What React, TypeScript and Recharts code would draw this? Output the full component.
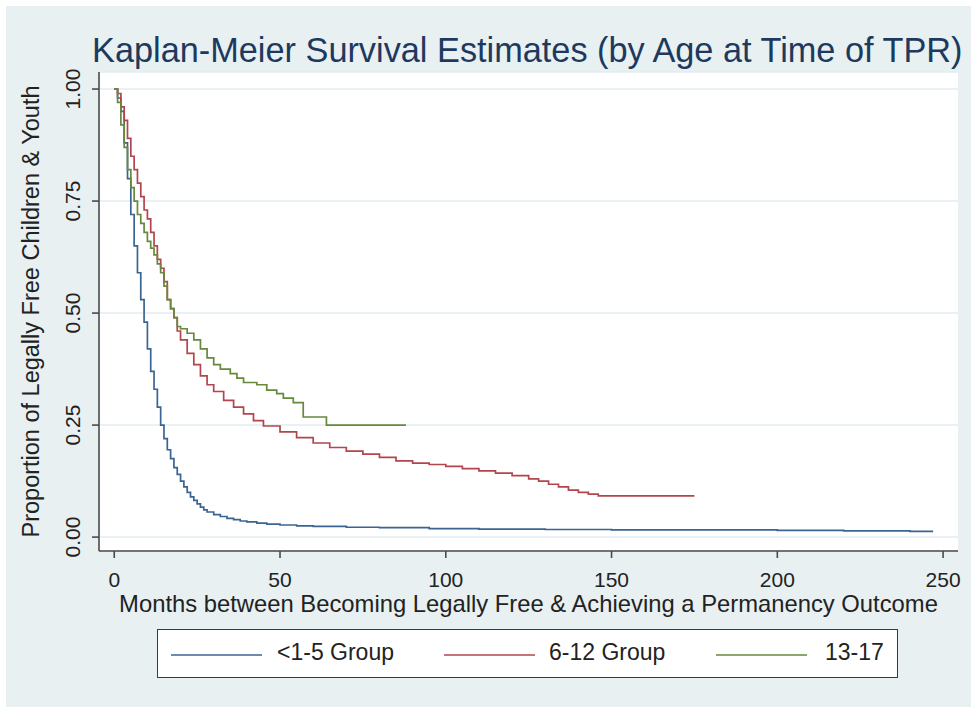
import React from "react";
import {
  LineChart,
  Line,
  XAxis,
  YAxis,
  CartesianGrid,
  Legend,
} from "recharts";

// months since becoming legally free, and Kaplan-Meier survival at each step
const youngMonths = [
  0, 1, 2, 3, 4, 5, 6, 7, 8, 9, 10, 11, 12, 13, 14, 15, 16, 17, 18, 19, 20, 21,
  22, 23, 24, 25, 26, 27, 28, 30, 32, 34, 36, 38, 40, 43, 46, 50, 55, 60, 70,
  80, 95, 110, 130, 150, 175, 200, 220, 240, 247,
];
const youngSurvival = [
  1, 0.98, 0.95, 0.88, 0.8, 0.72, 0.65, 0.59, 0.53, 0.48, 0.42, 0.37, 0.33,
  0.29, 0.25, 0.22, 0.195, 0.175, 0.155, 0.14, 0.125, 0.112, 0.1, 0.09, 0.082,
  0.074, 0.067, 0.061, 0.056, 0.05, 0.046, 0.042, 0.039, 0.036, 0.034, 0.031,
  0.029, 0.027, 0.025, 0.024, 0.022, 0.021, 0.019, 0.018, 0.017, 0.016, 0.016,
  0.015, 0.014, 0.013, 0.013,
];

const middleMonths = [
  0, 1, 2, 3, 4, 5, 6, 7, 8, 9, 10, 11, 12, 13, 14, 15, 16, 17, 18, 19, 20, 22,
  24, 26, 28, 30, 33, 36, 39, 42, 45, 50, 55, 60, 65, 70, 75, 80, 85, 90, 95,
  100, 105, 110, 115, 120, 125, 128, 131, 134, 137, 140, 143, 146, 175,
];
const middleSurvival = [
  1, 0.99, 0.96, 0.93, 0.89, 0.85, 0.82, 0.79, 0.76, 0.73, 0.71, 0.68, 0.65,
  0.62, 0.6, 0.57, 0.53, 0.51, 0.49, 0.46, 0.44, 0.41, 0.385, 0.36, 0.34,
  0.325, 0.305, 0.29, 0.275, 0.26, 0.248, 0.235, 0.222, 0.21, 0.2, 0.192,
  0.185, 0.178, 0.17, 0.165, 0.162, 0.158, 0.153, 0.148, 0.143, 0.137, 0.13,
  0.125, 0.118, 0.112, 0.105, 0.1, 0.096, 0.092, 0.092,
];

const teenMonths = [
  0, 1, 2, 3, 4, 5, 6, 7, 8, 9, 10, 11, 12, 13, 14, 15, 16, 17, 18, 19, 20, 22,
  24, 26, 28, 30, 32, 35, 37, 39, 43, 46, 49, 51, 54, 57, 64, 88,
];
const teenSurvival = [
  1, 0.97, 0.92, 0.87, 0.82, 0.78, 0.75, 0.72, 0.7, 0.68, 0.66, 0.645, 0.63,
  0.61, 0.59, 0.56, 0.53, 0.51, 0.49, 0.47, 0.465, 0.455, 0.44, 0.42, 0.4,
  0.385, 0.375, 0.365, 0.355, 0.345, 0.34, 0.328, 0.32, 0.31, 0.3, 0.268, 0.25,
  0.25,
];

const groupNames = ["<1-5 Group", "6-12 Group", "13-17"];
const groupColors = ["#3a6593", "#b2454d", "#66893c"];
const xTicks = [0, 50, 100, 150, 200, 250];
const yTicks = [0, 0.25, 0.5, 0.75, 1];

const toRows = (months: number[], surv: number[]) =>
  months.map((t, i) => ({ t, s: surv[i] }));

const series = [
  toRows(youngMonths, youngSurvival),
  toRows(middleMonths, middleSurvival),
  toRows(teenMonths, teenSurvival),
];

const FONT = '"Liberation Sans", Arial, Helvetica, sans-serif';
const INK = "#222";
const BG = "#e8f0f2";

const XTick = (props: any) => {
  const { x, y, payload } = props;
  return (
    <text x={x} y={y + 29} textAnchor="middle" fontSize={21} fill={INK} fontFamily={FONT}>
      {payload.value}
    </text>
  );
};

const YTick = (props: any) => {
  const { x, y, payload } = props;
  return (
    <text
      transform={`translate(${x - 12}, ${y}) rotate(-90)`}
      textAnchor="middle"
      fontSize={21}
      fill={INK}
      fontFamily={FONT}
    >
      {Number(payload.value).toFixed(2)}
    </text>
  );
};

const legendOffsets = [
  { line: 13, text: 119 },
  { line: 286, text: 391 },
  { line: 558, text: 667 },
];

const renderLegend = () => (
  <div
    style={{
      position: "relative",
      width: 741,
      height: 49,
      boxSizing: "border-box",
      border: "1.5px solid #3a3a3a",
      background: "#fff",
      fontFamily: FONT,
    }}
  >
    {groupNames.map((name, i) => (
      <React.Fragment key={name}>
        <div
          style={{
            position: "absolute",
            left: legendOffsets[i].line,
            top: 24,
            width: 91,
            height: 0,
            borderTop: `2px solid ${groupColors[i]}`,
            opacity: 0.75,
          }}
        />
        <div
          style={{
            position: "absolute",
            left: legendOffsets[i].text,
            top: 9,
            fontSize: 23,
            lineHeight: "26px",
            color: INK,
            whiteSpace: "nowrap",
          }}
        >
          {name}
        </div>
      </React.Fragment>
    ))}
  </div>
);

export default function App() {
  return (
    <div
      style={{
        position: "absolute",
        left: 0,
        top: 0,
        width: 971,
        height: 707,
        background: "#fff",
      }}
    >
      <div
        style={{
          position: "absolute",
          left: 6,
          top: 6,
          width: 965,
          height: 701,
          background: BG,
        }}
      />
      <div
        style={{
          position: "absolute",
          left: 92,
          top: 33,
          fontFamily: FONT,
          fontSize: 34.3,
          lineHeight: "34px",
          color: "#1d3a5e",
          whiteSpace: "nowrap",
        }}
      >
        Kaplan-Meier Survival Estimates (by Age at Time of TPR)
      </div>
      <div style={{ position: "absolute", left: 0, top: 0 }}>
        <LineChart
          width={971}
          height={707}
          margin={{ top: 72, right: 13, bottom: 29, left: 0 }}
        >
          <CartesianGrid
            horizontal
            vertical={false}
            stroke="#e3edf0"
            strokeWidth={1.5}
            fill="#fff"
          />
          <XAxis
            dataKey="t"
            type="number"
            domain={[-4.6, 254.5]}
            ticks={xTicks}
            allowDataOverflow
            height={78}
            tickSize={7}
            tickMargin={0}
            tick={<XTick />}
            stroke="#4a4a4a"
            strokeWidth={1.6}
            label={{
              content: (p: any) => {
                const vb = p.viewBox;
                return (
                  <text
                    x={vb.x + vb.width / 2}
                    y={vb.y + 61}
                    textAnchor="middle"
                    fontSize={23.8}
                    fill={INK}
                    fontFamily={FONT}
                  >
                    Months between Becoming Legally Free &amp; Achieving a Permanency Outcome
                  </text>
                );
              },
            }}
          />
          <YAxis
            type="number"
            domain={[-0.031, 1.038]}
            ticks={yTicks}
            allowDataOverflow
            width={99}
            tickSize={7}
            tickMargin={0}
            tick={<YTick />}
            stroke="#4a4a4a"
            strokeWidth={1.6}
            label={{
              content: (p: any) => {
                const vb = p.viewBox;
                return (
                  <text
                    transform={`translate(${vb.x + 39}, ${vb.y + vb.height / 2}) rotate(-90)`}
                    textAnchor="middle"
                    fontSize={23.5}
                    fill={INK}
                    fontFamily={FONT}
                  >
                    Proportion of Legally Free Children &amp; Youth
                  </text>
                );
              },
            }}
          />
          <Legend
            verticalAlign="bottom"
            content={renderLegend}
            wrapperStyle={{ left: 157, width: 741, height: 49 }}
          />
          {series.map((rows, i) => (
            <Line
              key={groupNames[i]}
              data={rows}
              dataKey="s"
              name={groupNames[i]}
              type="stepAfter"
              stroke={groupColors[i]}
              strokeWidth={1.7}
              dot={false}
              isAnimationActive={false}
            />
          ))}
        </LineChart>
      </div>
    </div>
  );
}
